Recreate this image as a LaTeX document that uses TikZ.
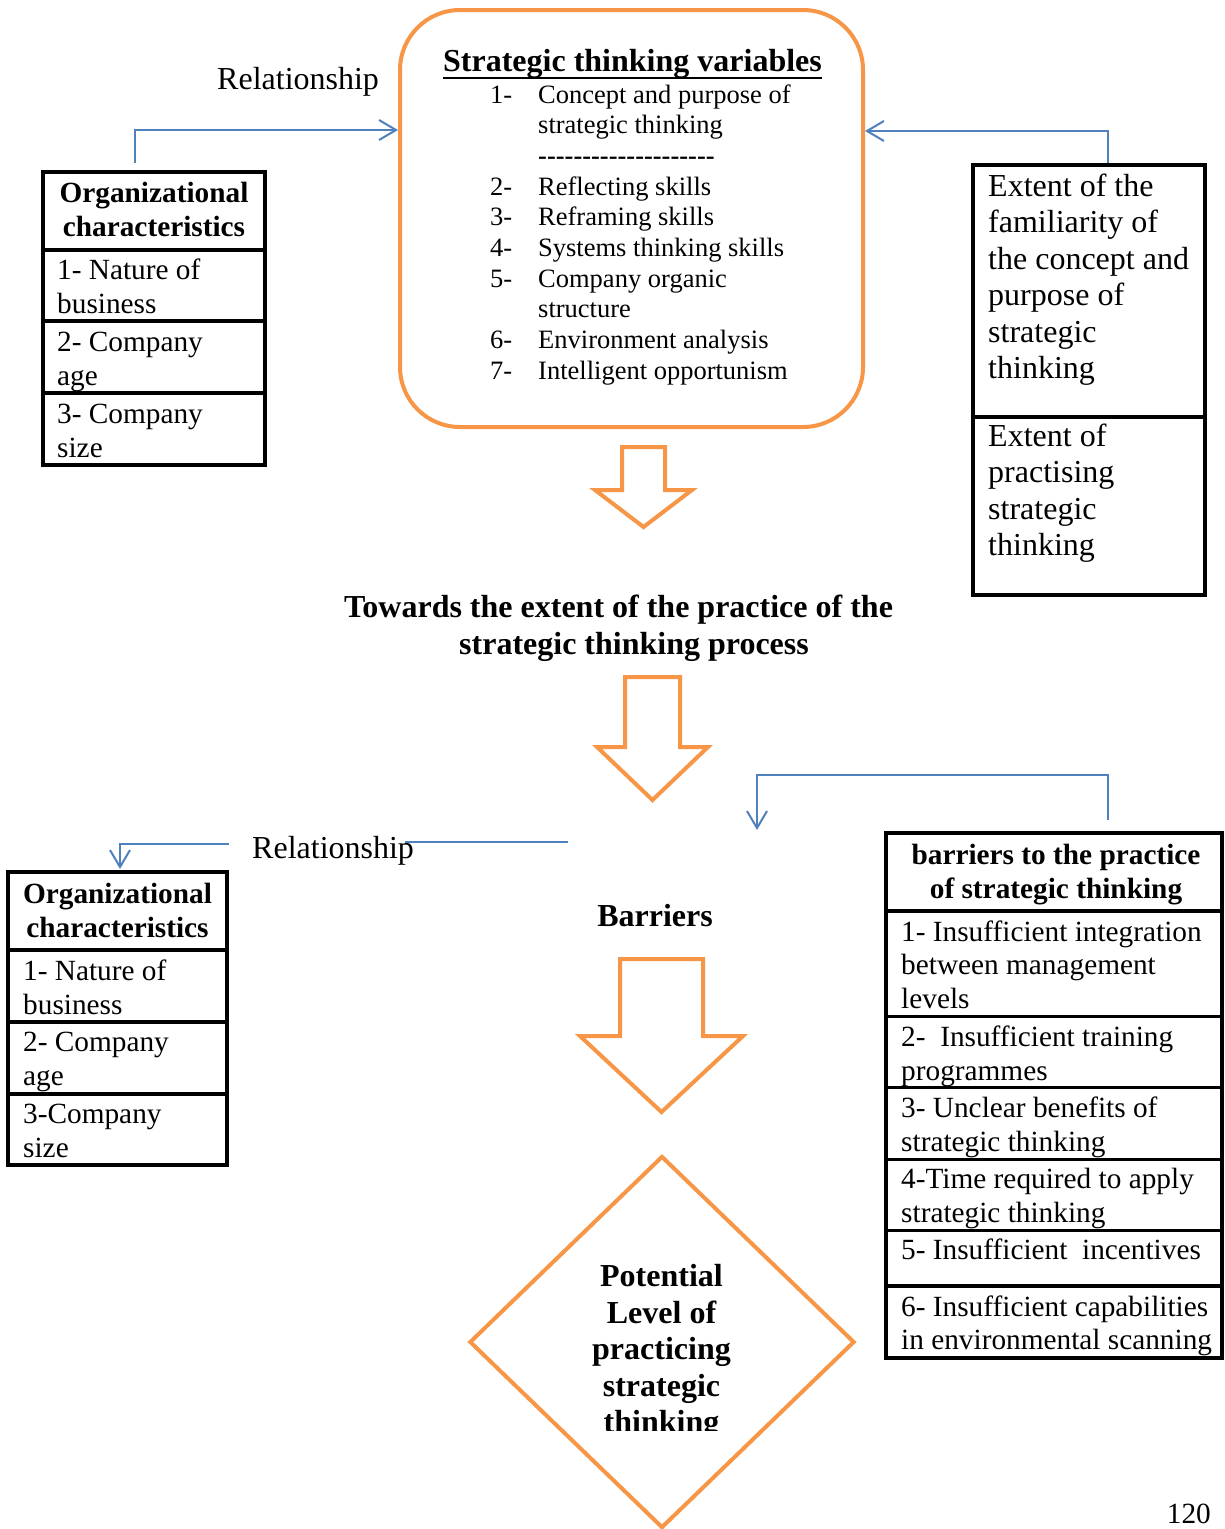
\documentclass[tikz,border=0pt]{standalone}
\usepackage{fontspec}
\setmainfont{Liberation Serif}
\usetikzlibrary{arrows.meta,shapes.geometric}

\definecolor{accent}{HTML}{F79646}
\definecolor{link}{HTML}{4F81BD}

% type sizes (size / baseline skip)
\newcommand\fsBig{\fontsize{32pt}{36.5pt}\selectfont}
\newcommand\fsMid{\fontsize{29.3pt}{33.5pt}\selectfont}
\newcommand\fsList{\fontsize{26.5pt}{30.7pt}\selectfont}
\newcommand\hy{-\kern0pt}

\tikzset{
  frame/.style={rectangle, draw=black, line width=3.5pt, inner sep=0pt, outer sep=0pt, anchor=north west},
  rowline/.style={draw=black, line width=3.5pt},
  cell/.style={inner sep=0pt, anchor=north west, align=left, font=\fsMid},
  headcell/.style={inner sep=0pt, anchor=north, align=center, font=\fsMid\bfseries},
  plain/.style={inner sep=0pt},
  rel/.style={draw=link, line width=2pt},
  relarrow/.style={rel, -{Straight Barb[length=17pt,width=20pt]}},
  bigarrow/.style={draw=accent, line width=4pt, line join=miter, fill=white},
}

\begin{document}
\begin{tikzpicture}[x=1pt,y=-1pt]
\path[fill=white] (0,0) rectangle (1225,1529);
\useasboundingbox (0,0) rectangle (1225,1529);

% ---------- strategic thinking variables ----------
\node[draw=accent, line width=4pt, rounded corners=60pt, minimum width=463pt,
      minimum height=417pt, inner sep=0pt, outer sep=0pt] (vars) at (631.5,218.5) {};
\node[plain, anchor=base, font=\fsBig\bfseries] (varsT) at (632.5,71) {Strategic thinking variables};
\draw[line width=2.5pt] ([yshift=-7pt]varsT.base west) -- ([yshift=-7pt]varsT.base east);
\node[plain, anchor=base west, font=\fsList] (varsL) at (490,103) {%
\begin{tabular}[t]{@{}p{48pt}@{}l@{}}
1- & Concept and purpose of\\
   & strategic thinking\\
   & \bfseries\hy\hy\hy\hy\hy\hy\hy\hy\hy\hy\hy\hy\hy\hy\hy\hy\hy\hy\hy\hy\\
2- & Reflecting skills\\
3- & Reframing skills\\
4- & Systems thinking skills\\
5- & Company organic\\
   & structure\\
6- & Environment analysis\\
7- & Intelligent opportunism
\end{tabular}};

% ---------- organizational characteristics (top) ----------
\node[frame, minimum width=222pt, minimum height=293pt] (orgA) at (43,172) {};
\draw[rowline] (43,250) -- (265,250);
\draw[rowline] (43,321) -- (265,321);
\draw[rowline] (43,393) -- (265,393);
\node[headcell] (orgAh) at (154,179) {\strut Organizational\\characteristics};
\node[cell] (orgA1) at (57,256) {\strut 1- Nature of\\business};
\node[cell] (orgA2) at (57,328) {\strut 2- Company\\age};
\node[cell] (orgA3) at (57,400) {\strut 3- Company\\size};

\node[plain, anchor=base west, font=\fsBig] (relTop) at (217,89) {Relationship};
\coordinate (lA) at (135,163);
\coordinate (lAk) at (135,130);
\draw[relarrow, shorten >=2pt] (lA) -- (lAk) -- (lAk -| vars.west);

% ---------- familiarity / practice box ----------
\node[frame, minimum width=232pt, minimum height=430pt] (ext) at (973,165) {};
\draw[rowline] (973,417) -- (1205,417);
\node[cell, font=\fsBig] (ext1) at (988,170.5) {\strut Extent of the\\familiarity of\\the concept and\\purpose of\\strategic\\thinking};
\node[cell, font=\fsBig] (ext2) at (988,420.5) {\strut Extent of\\practising\\strategic\\thinking};

\coordinate (rA) at (1108,163);
\coordinate (rAk) at (1108,131);
\draw[relarrow, shorten >=2pt] (rA) -- (rAk) -- (rAk -| vars.east);

% ---------- flow arrows and captions ----------
\draw[bigarrow] (622,447) -- (665,447) -- (665,490) -- (692,490) -- (643.5,527)
  -- (595,490) -- (622,490) -- cycle;
\node[plain, anchor=north, align=center, font=\fsBig\bfseries] (toward) at (634,592)
  {\strut Towards the extent of the practice of the\hspace*{31pt}\\strategic thinking process};
\draw[bigarrow] (625,677) -- (680,677) -- (680,747) -- (708,747) -- (652.5,800)
  -- (597,747) -- (625,747) -- cycle;
\node[plain, anchor=base, font=\fsBig\bfseries] (barr) at (655,926) {Barriers};
\draw[bigarrow] (620,959) -- (703,959) -- (703,1036) -- (743,1036) -- (661.5,1112)
  -- (580,1036) -- (620,1036) -- cycle;

% ---------- barriers table ----------
\coordinate (mA) at (1108,820);
\coordinate (mB) at (1108,775);
\coordinate (mC) at (757,775);
\coordinate (mD) at (757,830);
\draw[relarrow] (mA) -- (mB) -- (mC) -- (mD);

\node[frame, minimum width=336pt, minimum height=525pt] (bar) at (886,833) {};
\draw[rowline] (886,911) -- (1222,911);
\draw[rowline] (886,1016.5) -- (1222,1016.5);
\draw[rowline] (886,1087.5) -- (1222,1087.5);
\draw[rowline] (886,1159.5) -- (1222,1159.5);
\draw[rowline] (886,1230.5) -- (1222,1230.5);
\draw[rowline] (886,1286) -- (1222,1286);
\node[headcell] (barh) at (1056,841) {\strut barriers to the practice\\of strategic thinking};
\node[cell] (bar1) at (901,917.5) {\strut 1- Insufficient integration\\between management\\levels};
\node[cell] (bar2) at (901,1023) {\strut 2-~ Insufficient training\\programmes};
\node[cell] (bar3) at (901,1094) {\strut 3- Unclear benefits of\\strategic thinking};
\node[cell] (bar4) at (901,1165) {\strut 4-Time required to apply\\strategic thinking};
\node[cell] (bar5) at (901,1236) {\strut 5- Insufficient~ incentives};
\node[cell] (bar6) at (901,1292.5) {\strut 6- Insufficient capabilities\\in environmental scanning};

% ---------- organizational characteristics (bottom) ----------
\node[frame, minimum width=219pt, minimum height=293pt] (orgB) at (8,872) {};
\draw[rowline] (8,950) -- (227,950);
\draw[rowline] (8,1022) -- (227,1022);
\draw[rowline] (8,1094) -- (227,1094);
\node[headcell] (orgBh) at (117.5,880) {\strut Organizational\\characteristics};
\node[cell] (orgB1) at (23,957) {\strut 1- Nature of\\business};
\node[cell] (orgB2) at (23,1028) {\strut 2- Company\\age};
\node[cell] (orgB3) at (23,1100) {\strut 3-Company\\size};

\node[plain, anchor=base west, font=\fsBig] (relLow) at (252,858) {Relationship};
\coordinate (nA) at (568,842);
\coordinate (nB) at (405,842);
\draw[rel] (nA) -- (nB);
\coordinate (nC) at (229,844);
\coordinate (nD) at (120,844);
\draw[relarrow, shorten >=3pt] (nC) -- (nD) -- (nD |- orgB.north);

% ---------- potential level ----------
\node[diamond, draw=accent, line width=4pt, minimum width=385pt, minimum height=372pt,
      inner sep=0pt] (lvl) at (662,1342) {};
\begin{scope}
  \clip (450,1240) rectangle (880,1430);
  \node[plain, anchor=north, align=center, font=\fsBig\bfseries] (lvlT) at (661.5,1261)
    {\strut Potential\\Level of\\practicing\\strategic\\thinking};
\end{scope}

\node[plain, anchor=base east, font=\fsMid] (pg) at (1211,1523) {120};
\end{tikzpicture}
\end{document}
